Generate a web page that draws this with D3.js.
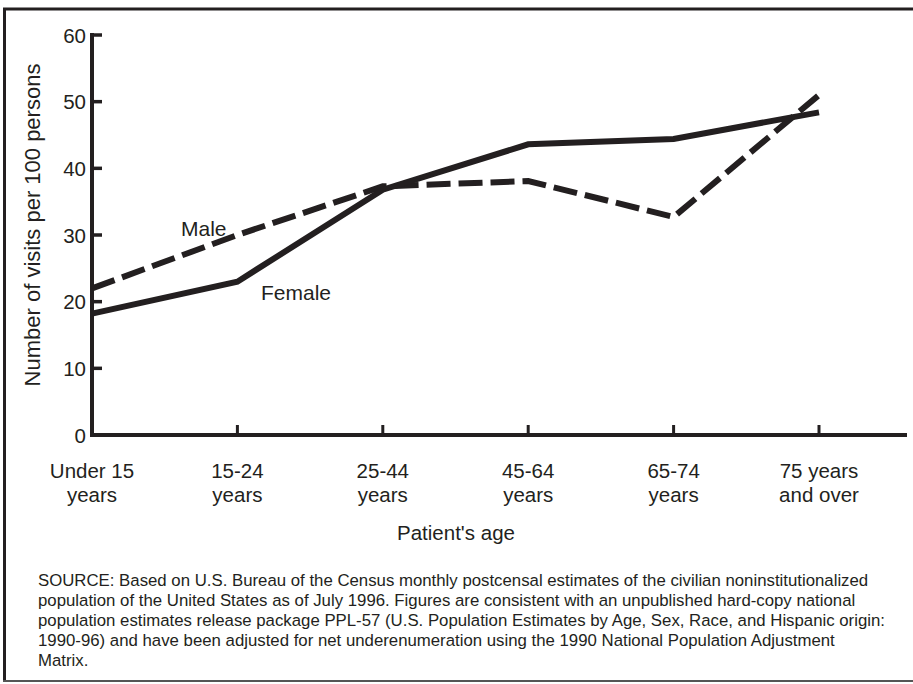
<!DOCTYPE html>
<html><head><meta charset="utf-8">
<script src="https://cdn.jsdelivr.net/npm/d3@7"></script>
<style>body{margin:0;background:#fff}svg{display:block}text{font-family:"Liberation Sans",Arial,sans-serif;fill:#231f20}</style>
</head><body><svg id="c" width="913" height="684"></svg>
<script>
const categories = ["Under 15|years","15-24|years","25-44|years","45-64|years","65-74|years","75 years|and over"];
const female = [18.2, 23.0, 36.8, 43.6, 44.4, 48.4];
const male = [22.0, 30.0, 37.3, 38.1, 32.7, 51.0];
const yTicks = [0,10,20,30,40,50,60];
const sourceLines = [
"SOURCE: Based on U.S. Bureau of the Census monthly postcensal estimates of the civilian noninstitutionalized",
"population of the United States as of July 1996. Figures are consistent with an unpublished hard-copy national",
"population estimates release package PPL-57 (U.S. Population Estimates by Age, Sex, Race, and Hispanic origin:",
"1990-96) and have been adjusted for net underenumeration using the 1990 National Population Adjustment",
"Matrix."];

const svg = d3.select("#c");
const ink = "#231f20";
// frame
svg.append("line").attr("x1",3).attr("x2",913).attr("y1",9).attr("y2",9).attr("stroke",ink).attr("stroke-width",3);
svg.append("line").attr("x1",4.5).attr("x2",4.5).attr("y1",8).attr("y2",682).attr("stroke",ink).attr("stroke-width",3);
svg.append("line").attr("x1",3).attr("x2",913).attr("y1",681).attr("y2",681).attr("stroke","#555").attr("stroke-width",2);

const x = d3.scalePoint().domain(d3.range(categories.length)).range([92, 819]);
const y = d3.scaleLinear().domain([0,60]).range([435, 35]);

// y axis
svg.append("line").attr("x1",92).attr("x2",92).attr("y1",y(60)-2).attr("y2",y(0)+2).attr("stroke",ink).attr("stroke-width",4);
const yt = svg.append("g");
yTicks.forEach(t=>{
  yt.append("line").attr("x1",92).attr("x2",102).attr("y1",y(t)).attr("y2",y(t)).attr("stroke",ink).attr("stroke-width",3.5);
  yt.append("text").attr("x",86).attr("y",y(t)+7.5).attr("text-anchor","end").attr("font-size",20.5).text(t);
});
// x axis
svg.append("line").attr("x1",90).attr("x2",907).attr("y1",y(0)).attr("y2",y(0)).attr("stroke",ink).attr("stroke-width",4);
categories.forEach((c,i)=>{
  if(i>0) svg.append("line").attr("x1",x(i)).attr("x2",x(i)).attr("y1",y(0)).attr("y2",y(0)-10).attr("stroke",ink).attr("stroke-width",3);
  const parts=c.split("|");
  parts.forEach((p,j)=>{
    svg.append("text").attr("x",x(i)).attr("y",478+j*24).attr("text-anchor","middle").attr("font-size",20.5).text(p);
  });
});
svg.append("text").attr("x",456).attr("y",540).attr("text-anchor","middle").attr("font-size",20.5).text("Patient's age");
svg.append("text").attr("transform","translate(40,225) rotate(-90)").attr("text-anchor","middle").attr("font-size",22).text("Number of visits per 100 persons");

const line = d3.line().x((d,i)=>x(i)).y(d=>y(d));
svg.append("path").datum(male).attr("d",line).attr("fill","none").attr("stroke",ink).attr("stroke-width",6).attr("stroke-dasharray","24,8");
svg.append("path").datum(female).attr("d",line).attr("fill","none").attr("stroke",ink).attr("stroke-width",6);

svg.append("text").attr("x",181).attr("y",236).attr("font-size",21).text("Male");
svg.append("text").attr("x",261).attr("y",300).attr("font-size",21).text("Female");

sourceLines.forEach((l,i)=>{
  svg.append("text").attr("x",38).attr("y",586+i*20).attr("font-size",16.8).text(l);
});
</script></body></html>
